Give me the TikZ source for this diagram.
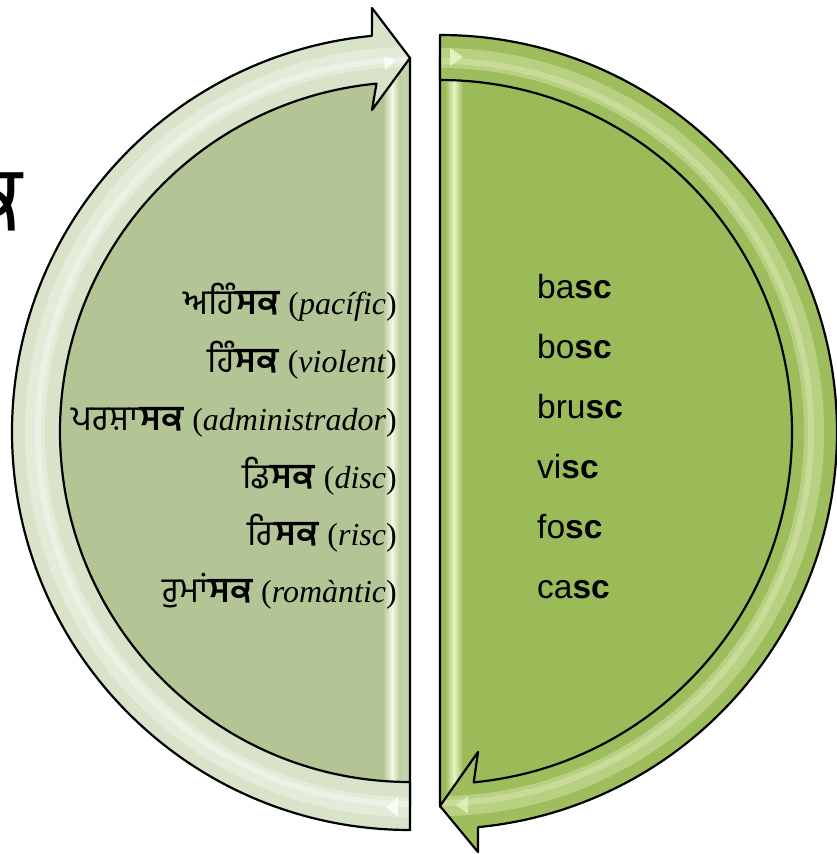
\documentclass[tikz,border=0pt]{standalone}
\usepackage{fontspec}
\setmainfont{Liberation Serif}
\newfontfamily\arialf{Liberation Sans}
\newfontfamily\gur[Script=Gurmukhi]{Hind Jalandhar}
\definecolor{lfill}{RGB}{180,197,149}
\definecolor{lband}{RGB}{216,227,201}
\definecolor{rfill}{RGB}{155,187,89}
\definecolor{rband}{RGB}{158,190,94}
\definecolor{lgloss}{RGB}{244,248,226}
\definecolor{rgloss}{RGB}{232,244,196}
\newcommand{\gw}[2]{{\gur\fontsize{35}{40}\selectfont #1\textbf{#2}}}
\begin{document}
\begin{tikzpicture}[x=1pt,y=1pt,
  outline/.style={draw=black, line width=2.2pt, line join=round},
  lword/.style={anchor=base east, font=\fontsize{32}{38}\selectfont, inner sep=0pt},
  rword/.style={anchor=base west, font=\arialf\fontsize{33.5}{40}\selectfont, inner sep=0pt}]
\useasboundingbox (0,0) rectangle (836,854);

\def\lhalf{(410,796) arc[start angle=90,end angle=270,radius=374] -- cycle}
\def\rhalf{(440,796.5) arc[start angle=90,end angle=-90,radius=374.5] -- cycle}
\def\lband{(410,72) -- (410,24) arc[start angle=270,end angle=95.5,radius=398] -- (372,846) -- (410,796) -- (372,744) -- ([shift={(410,422)}]95.5:350) arc[start angle=95.5,end angle=270,radius=350] -- cycle}
\def\rband{(440,774) -- (440,819) arc[start angle=90,end angle=-84.5,radius=397] -- (478,2) -- (440,48) -- (478,102) -- ([shift={(440,422)}]-84.5:352) arc[start angle=-84.5,end angle=90,radius=352] -- cycle}

% big partial glyph at the left edge
\node[anchor=base east, font=\gur\fontsize{90}{90}\selectfont, inner sep=0pt] (big) at (22,623) {ਕ};

% half discs
\fill[lfill] \lhalf;
\fill[rfill] \rhalf;
\begin{scope}
  \clip \lhalf;
  \shade[left color=lfill, right color=lfill, middle color=lgloss] (383,0) rectangle (401,854);
  \fill[lfill!80!white] (401,0) rectangle (410,854);
\end{scope}
\begin{scope}
  \clip \rhalf;
  \shade[left color=rfill, right color=rfill, middle color=rgloss] (445,0) rectangle (463,854);
\end{scope}
\draw[outline] \lhalf;
\draw[outline] \rhalf;

% bands
\fill[lband] \lband;
\begin{scope}
  \clip \lband;
  \draw[white, opacity=.3, line width=20pt] (410,422) circle[radius=375];
  \draw[white, opacity=.3, line width=6pt] (410,422) circle[radius=372];
\end{scope}
\fill[rband] \rband;
\begin{scope}
  \clip \rband;
  \draw[rgloss, opacity=.35, line width=20pt] (440,422) circle[radius=374];
  \draw[rgloss, opacity=.35, line width=6pt] (440,422) circle[radius=371];
\end{scope}
% small bevel highlights
\fill[white, opacity=.8] (384,797) -- (396,794) -- (385,784) -- cycle;
\fill[rgloss, opacity=.9] (450,806) -- (463,797) -- (450,788) -- cycle;
\fill[white, opacity=.8] (386,47) -- (398,57) -- (398,37) -- cycle;
\fill[rgloss, opacity=.7] (456,49) -- (468,58) -- (468,40) -- cycle;
\draw[outline] \lband;
\draw[outline] \rband;

% left words
\node[lword] (l1) at (397,539) {\gw{ਅਹਿੰ}{ਸਕ} (\textit{pacífic})};
\node[lword] (l2) at (397,481) {\gw{ਹਿੰ}{ਸਕ} (\textit{violent})};
\node[lword] (l3) at (397,423) {\gw{ਪਰਸ਼ਾ}{ਸਕ} (\textit{administrador})};
\node[lword] (l4) at (397,365) {\gw{ਡਿ}{ਸਕ} (\textit{disc})};
\node[lword] (l5) at (397,308) {\gw{ਰਿ}{ਸਕ} (\textit{risc})};
\node[lword] (l6) at (397,251) {\gw{ਰੁਮਾਂ}{ਸਕ} (\textit{romàntic})};

% right words
\node[rword] (r1) at (537,555) {ba\textbf{sc}};
\node[rword] (r2) at (537,495) {bo\textbf{sc}};
\node[rword] (r3) at (537,435) {bru\textbf{sc}};
\node[rword] (r4) at (537,375) {vi\textbf{sc}};
\node[rword] (r5) at (537,315) {fo\textbf{sc}};
\node[rword] (r6) at (537,255) {ca\textbf{sc}};
\end{tikzpicture}
\end{document}
